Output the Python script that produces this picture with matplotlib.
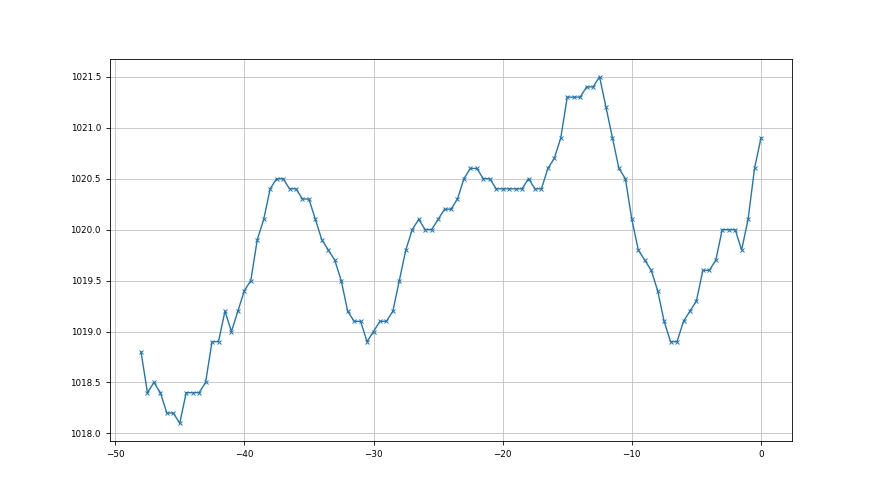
import numpy as np
import matplotlib
matplotlib.use("Agg")
import matplotlib.pyplot as plt

hours = np.arange(-48, 0.01, 0.5)
pressure = [
    1018.8, 1018.4, 1018.5, 1018.4, 1018.2, 1018.2, 1018.1, 1018.4, 1018.4, 1018.4,
    1018.5, 1018.9, 1018.9, 1019.2, 1019.0, 1019.2, 1019.4, 1019.5, 1019.9, 1020.1,
    1020.4, 1020.5, 1020.5, 1020.4, 1020.4, 1020.3, 1020.3, 1020.1, 1019.9, 1019.8,
    1019.7, 1019.5, 1019.2, 1019.1, 1019.1, 1018.9, 1019.0, 1019.1, 1019.1, 1019.2,
    1019.5, 1019.8, 1020.0, 1020.1, 1020.0, 1020.0, 1020.1, 1020.2, 1020.2, 1020.3,
    1020.5, 1020.6, 1020.6, 1020.5, 1020.5, 1020.4, 1020.4, 1020.4, 1020.4, 1020.4,
    1020.5, 1020.4, 1020.4, 1020.6, 1020.7, 1020.9, 1021.3, 1021.3, 1021.3, 1021.4,
    1021.4, 1021.5, 1021.2, 1020.9, 1020.6, 1020.5, 1020.1, 1019.8, 1019.7, 1019.6,
    1019.4, 1019.1, 1018.9, 1018.9, 1019.1, 1019.2, 1019.3, 1019.6, 1019.6, 1019.7,
    1020.0, 1020.0, 1020.0, 1019.8, 1020.1, 1020.6, 1020.9,
]

fig, ax = plt.subplots(figsize=(8.8, 4.95), dpi=100)
ax.plot(hours, pressure, marker='x', markersize=3.5, markeredgewidth=0.7,
        linewidth=1, color='#1f77b4')
ax.grid(True, color='#c0c0c0', linewidth=0.6)
ax.tick_params(labelsize=6.3, length=3, width=0.6)
for s in ax.spines.values():
    s.set_linewidth(0.6)
fig.savefig('out.png', dpi=100)
